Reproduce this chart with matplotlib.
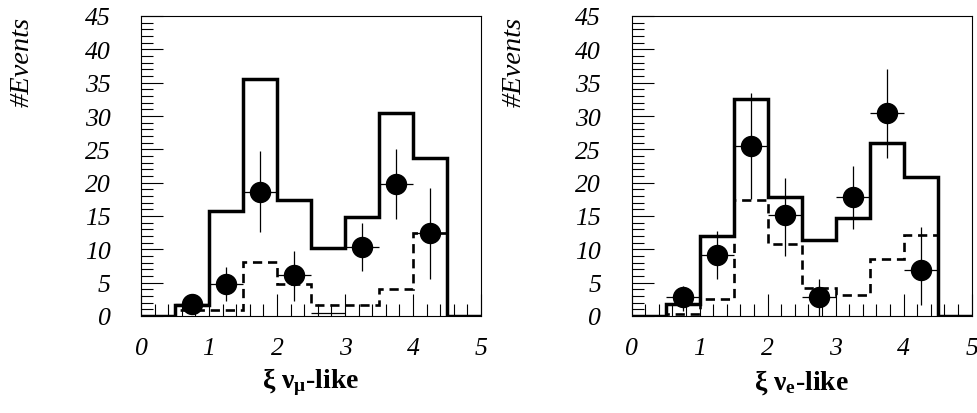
import numpy as np
import matplotlib
matplotlib.use("Agg")
import matplotlib.pyplot as plt
from matplotlib.ticker import MultipleLocator

# ---------------- data ----------------
bin_edges = [0, 0.5, 1.0, 1.5, 2.0, 2.5, 3.0, 3.5, 4.0, 4.5, 5.0]
point_x = [0.75, 1.25, 1.75, 2.25, 3.25, 3.75, 4.25]

# nu_mu-like panel
mu_total = [0, 1.7, 15.75, 35.6, 17.35, 10.25, 14.9, 30.4, 23.65, 0]
mu_bkg = [0, 0.9, 0.9, 8.15, 4.8, 1.6, 1.6, 4.1, 12.5, 0]
mu_data = [1.85, 4.85, 18.65, 6.1, 10.35, 19.85, 12.4]
mu_err_lo = [1.3, 2.6, 6.0, 3.85, 3.6, 5.35, 6.8]
mu_err_hi = [1.3, 2.5, 6.1, 3.65, 3.55, 5.15, 6.75]
mu_empty_x = [2.75]
mu_empty_y = [0.5]

# nu_e-like panel
e_x = [0.75, 1.25, 1.75, 2.25, 2.75, 3.25, 3.75, 4.25]
e_total = [0, 1.8, 12.0, 32.5, 17.9, 11.35, 14.65, 26.0, 20.9, 0]
e_bkg = [0, 0.3, 2.6, 17.35, 10.85, 4.2, 3.2, 8.6, 12.1, 0]
e_data = [2.9, 9.1, 25.5, 15.1, 2.8, 17.85, 30.4, 6.9]
e_err_lo = [2.15, 3.5, 7.9, 6.1, 2.8, 4.85, 6.65, 5.3]
e_err_hi = [1.6, 3.65, 7.9, 5.65, 2.7, 4.65, 6.7, 6.45]

yticks = [0, 5, 10, 15, 20, 25, 30, 35, 40, 45]
xticks = [0, 1, 2, 3, 4, 5]
ylabel = "#Events"

W, H = 978, 414
fig = plt.figure(figsize=(W / 100, H / 100), dpi=100)

serif = ["Liberation Serif", "DejaVu Serif"]
plt.rcParams["mathtext.fontset"] = "custom"
plt.rcParams["mathtext.rm"] = "Liberation Serif:bold"
plt.rcParams["mathtext.it"] = "Liberation Serif:bold"
plt.rcParams["mathtext.bf"] = "Liberation Serif:bold"


def panel(left_px, total, bkg, px, py, elo, ehi, xlabel, ylab_px, empty=None):
    ax = fig.add_axes([left_px / W, (H - 317) / H, 340 / W, 300 / H])
    ax.set_xlim(0, 5)
    ax.set_ylim(0, 45)
    ax.stairs(total, bin_edges, baseline=0, color="black", lw=2.5)
    ax.stairs(bkg, bin_edges, baseline=None, color="black", lw=1.9,
              linestyle=(0, (3.5, 2.2)))
    ax.errorbar(px, py, yerr=[elo, ehi], xerr=0.25, fmt="o", color="black",
                ms=14.4, elinewidth=0.9, capsize=0, zorder=5)
    if empty is not None:
        ax.errorbar(empty[0], empty[1], xerr=0.25, fmt="none", color="black",
                    elinewidth=0.9, capsize=0)
    for s in ax.spines.values():
        s.set_linewidth(0.8)
    ax.set_xticks(xticks)
    ax.set_yticks(yticks)
    ax.xaxis.set_minor_locator(MultipleLocator(0.2))
    ax.yaxis.set_minor_locator(MultipleLocator(1))
    ax.tick_params(which="both", direction="in", top=False, right=False,
                   width=0.8)
    ax.tick_params(which="major", length=16)
    ax.tick_params(which="minor", length=8.5)
    ax.tick_params(axis="y", which="major", pad=22)
    ax.tick_params(axis="x", which="major", pad=15)
    for lab in ax.get_xticklabels() + ax.get_yticklabels():
        lab.set_fontfamily(serif)
        lab.set_fontstyle("italic")
        lab.set_fontsize(18.5)
    ax.text(0.5, -0.217, xlabel, transform=ax.transAxes, ha="center",
            va="center", fontsize=20, fontfamily=serif, fontweight="bold")
    fig.text(ylab_px / W, (H - 17) / H, ylabel, rotation=90, ha="center",
             va="top", fontsize=20.5, fontfamily=serif, fontstyle="italic")
    return ax


panel(141, mu_total, mu_bkg, point_x, mu_data, mu_err_lo, mu_err_hi,
      "ξ ν$_{\\mathregular{μ}}$-like", 22, empty=(mu_empty_x, mu_empty_y))
panel(631.7, e_total, e_bkg, e_x, e_data, e_err_lo, e_err_hi,
      "ξ ν$_{\\mathregular{e}}$-like", 514)

fig.savefig("out.png", dpi=100)
